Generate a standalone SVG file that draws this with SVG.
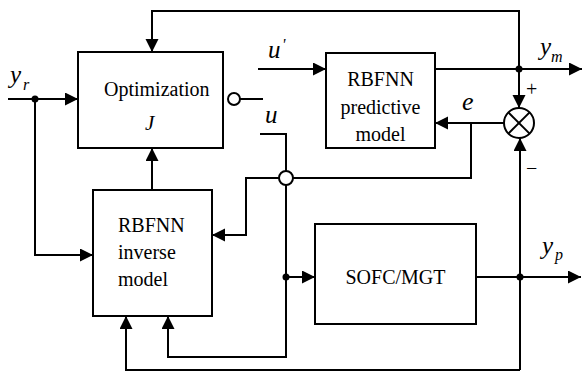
<svg xmlns="http://www.w3.org/2000/svg" width="582" height="373" viewBox="0 0 582 373">
<style>
.box{fill:#fff;stroke:#000;stroke-width:2}
.ln{fill:none;stroke:#000;stroke-width:2}
.t{font-family:"Liberation Serif","Times New Roman",serif;font-size:20px;fill:#000}
.i{font-family:"Liberation Serif","Times New Roman",serif;font-style:italic;fill:#000}
.dot{fill:#000}
.oc{fill:#fff;stroke:#000;stroke-width:2}
</style>
<defs>
<marker id="ah" markerUnits="userSpaceOnUse" markerWidth="14" markerHeight="14" refX="13" refY="6.5" orient="auto">
<path d="M0,0 L13,6.5 L0,13 z" fill="#000"/>
</marker>
</defs>
<rect width="582" height="373" fill="#fff"/>
<g id="connectors">
<line class="ln" x1="8" y1="99" x2="78" y2="99" marker-end="url(#ah)"/>
<polyline class="ln" points="35,99 35,255 93,255" marker-end="url(#ah)"/>
<line class="ln" x1="152" y1="190" x2="152" y2="148" marker-end="url(#ah)"/>
<polyline class="ln" points="519,69 519,11 152,11 152,52" marker-end="url(#ah)"/>
<line class="ln" x1="240" y1="99" x2="263" y2="99"/>
<line class="ln" x1="258" y1="69" x2="326" y2="69" marker-end="url(#ah)"/>
<line class="ln" x1="435" y1="69" x2="582" y2="69" marker-end="url(#ah)"/>
<line class="ln" x1="519" y1="69" x2="519" y2="108" marker-end="url(#ah)"/>
<line class="ln" x1="504" y1="123" x2="435" y2="123" marker-end="url(#ah)"/>
<polyline class="ln" points="471,123 471,178 246,178 246,235 212,235" marker-end="url(#ah)"/>
<polyline class="ln" points="260,134 286,134 286,357 168,357 168,316" marker-end="url(#ah)"/>
<line class="ln" x1="286" y1="277" x2="315" y2="277" marker-end="url(#ah)"/>
<line class="ln" x1="476" y1="277" x2="581" y2="277" marker-end="url(#ah)"/>
<polyline class="ln" points="520,370 126,370 126,316" marker-end="url(#ah)"/>
<line class="ln" x1="520" y1="370" x2="520" y2="138" marker-end="url(#ah)"/>
<circle class="dot" cx="35" cy="99" r="3.5"/>
<circle class="dot" cx="519" cy="69" r="3.5"/>
<circle class="dot" cx="286" cy="277" r="3.5"/>
<circle class="dot" cx="520" cy="277" r="3.5"/>
<circle class="oc" cx="286" cy="178" r="7"/>
<circle class="oc" cx="234" cy="99" r="6"/>
</g>
<g id="optimization">
<rect class="box" x="78" y="52" width="145" height="96"/>
<text class="t" x="104" y="96">Optimization</text>
<text class="i" x="145" y="130" font-size="21">J</text>
</g>
<g id="predictive">
<rect class="box" x="326" y="53" width="109" height="95"/>
<text class="t" x="380.5" y="86" text-anchor="middle">RBFNN</text>
<text class="t" x="380.5" y="114" text-anchor="middle">predictive</text>
<text class="t" x="380.5" y="141" text-anchor="middle">model</text>
</g>
<g id="inverse">
<rect class="box" x="93" y="190" width="119" height="126"/>
<text class="t" x="118" y="232">RBFNN</text>
<text class="t" x="118" y="259">inverse</text>
<text class="t" x="118" y="286">model</text>
</g>
<g id="plant">
<rect class="box" x="315" y="224" width="161" height="100"/>
<text class="t" x="395.5" y="284" text-anchor="middle">SOFC/MGT</text>
</g>
<g id="summation">
<circle class="oc" cx="519" cy="123" r="15"/>
<line class="ln" x1="508.4" y1="112.4" x2="529.6" y2="133.6"/>
<line class="ln" x1="529.6" y1="112.4" x2="508.4" y2="133.6"/>
<text class="t" x="526" y="96" font-size="25">+</text>
<text class="t" x="526" y="175" font-size="28">−</text>
</g>
<g id="labels">
<text class="i" x="10" y="83" font-size="25">y</text>
<text class="i" x="23" y="90" font-size="16">r</text>
<text class="i" x="268" y="58" font-size="25">u</text>
<text class="i" x="282" y="50" font-size="16">'</text>
<text class="i" x="265" y="123" font-size="25">u</text>
<text class="i" x="462" y="110" font-size="26">e</text>
<text class="i" x="540" y="55" font-size="25">y</text>
<text class="i" x="551" y="62" font-size="16">m</text>
<text class="i" x="542" y="254" font-size="25">y</text>
<text class="i" x="555" y="260" font-size="16">p</text>
</g>
</svg>
